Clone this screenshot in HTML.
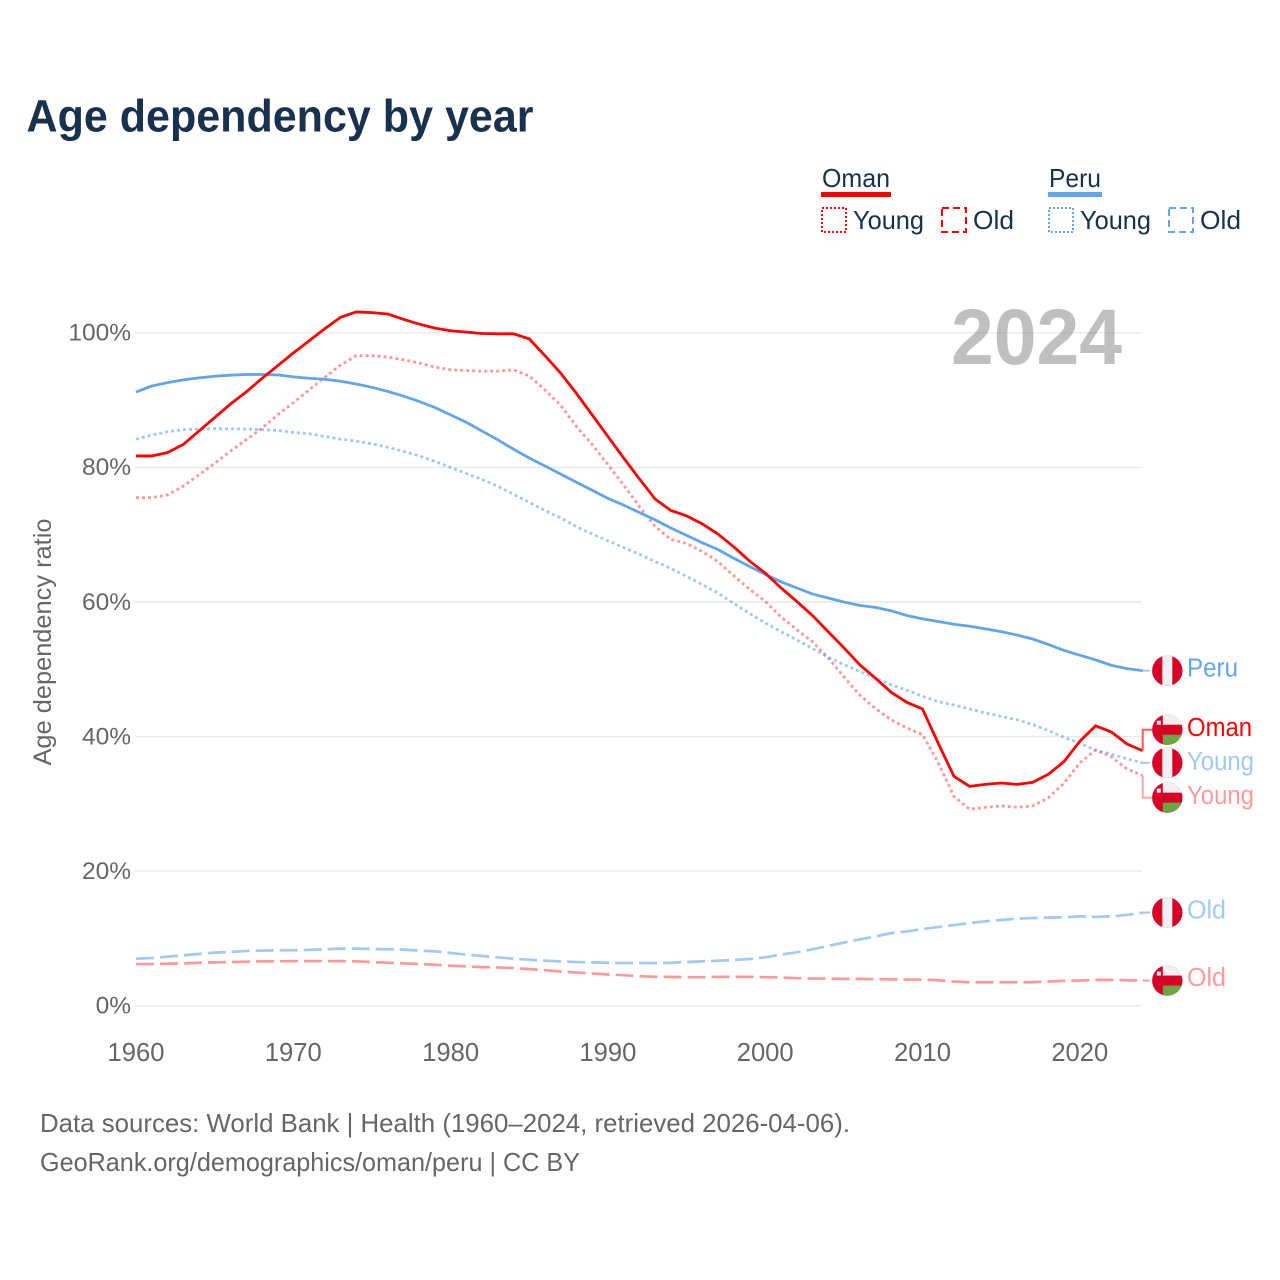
<!DOCTYPE html>
<html lang="en">
<head>
<meta charset="utf-8">
<title>Age dependency by year</title>
<style>
html,body{margin:0;padding:0;background:#fff;width:1280px;height:1280px;overflow:hidden}
svg{display:block;font-family:"Liberation Sans",sans-serif}
</style>
</head>
<body>
<svg id="chart" xmlns="http://www.w3.org/2000/svg" width="1280" height="1280" viewBox="0 0 1280 1280">
  <rect width="1280" height="1280" fill="#fff"/>
  <text x="26.5" y="131.5" font-size="45" font-weight="700" fill="#17314f" textLength="507" lengthAdjust="spacingAndGlyphs">Age dependency by year</text>

  <g>
    <text x="822" y="187" font-size="26" fill="#17314f" textLength="68" lengthAdjust="spacingAndGlyphs">Oman</text>
    <rect x="821" y="192" width="70" height="5" fill="#ff0000"/>
    <rect x="822" y="208" width="24" height="24" fill="none" stroke="#ff0000" stroke-width="2" stroke-dasharray="2,2"/>
    <text x="853" y="229" font-size="26" fill="#17314f" textLength="71" lengthAdjust="spacingAndGlyphs">Young</text>
    <rect x="942" y="208" width="24" height="24" fill="none" stroke="#ff0000" stroke-width="2" stroke-dasharray="7,4"/>
    <text x="973" y="229" font-size="26" fill="#17314f" textLength="41" lengthAdjust="spacingAndGlyphs">Old</text>

    <text x="1049" y="187" font-size="26" fill="#17314f" textLength="52" lengthAdjust="spacingAndGlyphs">Peru</text>
    <rect x="1048" y="192" width="54" height="5" fill="#60a5ee"/>
    <rect x="1049" y="208" width="24" height="24" fill="none" stroke="#60a5ee" stroke-width="2" stroke-dasharray="2,2"/>
    <text x="1080" y="229" font-size="26" fill="#17314f" textLength="71" lengthAdjust="spacingAndGlyphs">Young</text>
    <rect x="1169" y="208" width="24" height="24" fill="none" stroke="#60a5ee" stroke-width="2" stroke-dasharray="7,4"/>
    <text x="1200" y="229" font-size="26" fill="#17314f" textLength="41" lengthAdjust="spacingAndGlyphs">Old</text>
  </g>

  <g id="grid"></g>
  <g id="yticks"></g>
  <g id="xticks"></g>
  <text transform="translate(51,642) rotate(-90)" text-anchor="middle" font-size="25" fill="#666666" textLength="247" lengthAdjust="spacingAndGlyphs">Age dependency ratio</text>
  <text x="951" y="364" font-size="79" font-weight="700" fill="#808080" fill-opacity="0.5" textLength="171" lengthAdjust="spacingAndGlyphs">2024</text>
  <g id="series"></g>
  <g id="ends"></g>

  <text x="40" y="1132" font-size="26" fill="#666666" textLength="810" lengthAdjust="spacingAndGlyphs">Data sources: World Bank | Health (1960–2024, retrieved 2026-04-06).</text>
  <text x="40" y="1171" font-size="26" fill="#666666" textLength="540" lengthAdjust="spacingAndGlyphs">GeoRank.org/demographics/oman/peru | CC BY</text>
</svg>
<script>
const startYear = 1960;
const xTickYears = [1960, 1970, 1980, 1990, 2000, 2010, 2020];
const yTickValues = [0, 20, 40, 60, 80, 100];

const omanTotal = [
  81.7,81.7,82.2,83.4,85.4,87.4,89.4,91.2,93.2,95.1,
  97.0,98.8,100.6,102.3,103.1,103.0,102.8,102.0,101.3,100.7,
  100.3,100.1,99.9,99.85,99.85,99.1,96.6,94.0,91.0,87.8,
  84.6,81.4,78.3,75.3,73.6,72.8,71.6,70.1,68.2,66.1,
  64.3,62.1,60.1,58.0,55.6,53.2,50.7,48.7,46.6,45.1,
  44.1,39.0,34.1,32.6,32.9,33.1,32.9,33.2,34.4,36.3,
  39.3,41.6,40.7,38.9,37.9
];
const omanYoung = [
  75.5,75.5,75.9,77.2,78.9,80.6,82.4,84.1,85.8,87.8,
  89.6,91.5,93.4,95.2,96.6,96.6,96.4,96.0,95.5,94.9,
  94.5,94.4,94.3,94.3,94.5,93.6,91.5,89.2,86.1,83.4,
  80.4,77.4,74.2,71.2,69.3,68.7,67.5,66.0,63.9,61.9,
  60.1,57.8,55.9,54.1,51.7,48.9,46.2,44.2,42.5,41.3,
  40.3,36.1,31.1,29.2,29.5,29.7,29.5,29.7,30.9,33.1,
  36.1,38.0,37.0,35.2,34.2
];
const omanOld = [
  6.2,6.2,6.25,6.3,6.4,6.45,6.5,6.55,6.6,6.6,
  6.65,6.65,6.65,6.65,6.6,6.5,6.4,6.3,6.2,6.1,
  5.95,5.85,5.75,5.7,5.6,5.45,5.3,5.1,4.95,4.8,
  4.65,4.55,4.4,4.3,4.3,4.25,4.25,4.3,4.3,4.3,
  4.25,4.2,4.1,4.05,4.05,4.0,4.0,3.95,3.95,3.9,
  3.9,3.8,3.6,3.5,3.5,3.5,3.5,3.5,3.6,3.7,
  3.75,3.85,3.85,3.8,3.75
];
const peruTotal = [
  91.2,92.1,92.6,93.0,93.3,93.55,93.7,93.8,93.8,93.75,
  93.45,93.25,93.1,92.8,92.4,91.9,91.3,90.6,89.8,88.9,
  87.8,86.7,85.4,84.1,82.7,81.4,80.2,79.0,77.8,76.6,
  75.4,74.4,73.3,72.2,71.0,69.9,68.8,67.8,66.5,65.3,
  64.1,63.0,62.1,61.2,60.6,60.0,59.5,59.2,58.7,58.0,
  57.5,57.1,56.7,56.4,56.0,55.6,55.1,54.5,53.7,52.8,
  52.1,51.4,50.6,50.1,49.8
];
const peruYoung = [
  84.2,84.8,85.3,85.6,85.7,85.75,85.75,85.7,85.6,85.5,
  85.2,85.0,84.6,84.2,83.9,83.5,83.0,82.4,81.7,80.9,
  80.0,79.1,78.2,77.2,76.0,74.8,73.6,72.5,71.2,70.1,
  69.1,68.1,67.1,66.0,65.0,63.8,62.6,61.3,59.8,58.3,
  56.9,55.6,54.4,53.1,51.8,50.7,49.7,48.7,47.7,46.9,
  46.0,45.2,44.7,44.1,43.5,43.0,42.5,41.8,40.9,39.9,
  39.0,38.0,37.4,36.7,36.1
];
const peruOld = [
  7.0,7.1,7.3,7.5,7.7,7.9,8.0,8.15,8.2,8.25,
  8.25,8.3,8.4,8.5,8.5,8.45,8.4,8.35,8.2,8.1,
  7.85,7.6,7.4,7.2,7.0,6.85,6.7,6.6,6.5,6.45,
  6.4,6.35,6.35,6.35,6.4,6.5,6.6,6.7,6.8,6.95,
  7.2,7.6,7.95,8.4,8.9,9.4,9.85,10.3,10.8,11.05,
  11.4,11.7,12.0,12.3,12.55,12.75,12.95,13.05,13.1,13.15,
  13.3,13.2,13.3,13.5,13.85
];

const NS = 'http://www.w3.org/2000/svg';
function xScale(year){ return 136 + (year - 1960) * 15.73; }
function yScale(v){ return 1005.8 - v * 6.73; }
function make(tag, attrs, parent){
  const el = document.createElementNS(NS, tag);
  for (const k in attrs) el.setAttribute(k, attrs[k]);
  parent.appendChild(el);
  return el;
}

const gridG = document.getElementById('grid');
const yG = document.getElementById('yticks');
const xG = document.getElementById('xticks');
const seriesG = document.getElementById('series');
const endsG = document.getElementById('ends');

yTickValues.forEach(function(v){
  const line = make('line', {x1:135, x2:1141.6, y1:yScale(v), y2:yScale(v), stroke:'#e9e9e9', 'stroke-width':1.4}, gridG);
  
  
  const t = make('text', {x:131, y:yScale(v)+7.8, 'text-anchor':'end', 'font-size':24.5, fill:'#666666'}, yG);
  t.textContent = v + '%';
  
  
});

xTickYears.forEach(function(y){
  const t = make('text', {x:xScale(y), y:1061, 'text-anchor':'middle', 'font-size':25.6, fill:'#666666'}, xG);
  t.textContent = y;
  
  
});

function drawLine(values, color, opacity, dash, width, name){
  const pts = values.map(function(v, i){ return xScale(startYear + i).toFixed(2) + ',' + yScale(v).toFixed(2); }).join(' ');
  const p = make('polyline', {points:pts, fill:'none', stroke:color, 'stroke-opacity':opacity, 'stroke-width':width, 'stroke-linejoin':'round'}, seriesG);
  if (dash) p.setAttribute('stroke-dasharray', dash);
  
  
}

drawLine(omanOld, '#ff0000', 0.4, '18,6', 2.7, 'line-oman-old');
drawLine(peruOld, '#60a5ee', 0.6, '18,6', 2.7, 'line-peru-old');
drawLine(omanYoung, '#ff0000', 0.4, '3,3', 2.8, 'line-oman-young');
drawLine(peruYoung, '#60a5ee', 0.6, '3,3', 2.8, 'line-peru-young');
drawLine(peruTotal, '#60a5ee', 1, null, 2.8, 'line-peru-total');
drawLine(omanTotal, '#ff0000', 1, null, 2.8, 'line-oman-total');

const defs = make('defs', {}, endsG);
let clipCount = 0;

function drawFlag(kind, cx, cy){
  clipCount += 1;
  const id = 'flag-clip-' + clipCount;
  const clip = make('clipPath', {id:id}, defs);
  make('circle', {cx:cx, cy:cy, r:15.2}, clip);
  const g = make('g', {'clip-path':'url(#' + id + ')'}, endsG);
  
  
  make('rect', {x:cx-16, y:cy-16, width:32, height:32, fill:'#d80027'}, g);
  if (kind === 'peru') {
    make('rect', {x:cx-5, y:cy-16, width:10, height:32, fill:'#f0f0f0'}, g);
  } else {
    make('rect', {x:cx-4.5, y:cy-16, width:21, height:11, fill:'#f0f0f0'}, g);
    make('rect', {x:cx-4.5, y:cy+5, width:21, height:11, fill:'#6da544'}, g);
    make('rect', {x:cx-10.5, y:cy-9, width:4, height:4, fill:'#f0f0f0'}, g);
  }
}

function drawEnd(values, kind, color, textColor, nudge, label, labelWidth, baselineShift, name){
  const last = values[values.length - 1];
  const x0 = xScale(startYear + values.length - 1);
  const y0 = yScale(last);
  const cy = y0 + nudge;
  const cx = 1167.3;
  const pts = nudge === 0 ? [[x0,y0],[1150,y0]] : [[x0,y0],[x0,cy],[1152,cy]];
  const conn = make('polyline', {points:pts.map(function(p){return p.join(',');}).join(' '), fill:'none', stroke:color, 'stroke-width':2}, endsG);
  
  
  drawFlag(kind, cx, cy);
  const t = make('text', {x:1187, y:cy+baselineShift, 'font-size':25.5, fill:textColor, textLength:labelWidth, lengthAdjust:'spacingAndGlyphs'}, endsG);
  t.textContent = label;
  
  
}

drawEnd(peruTotal, 'peru', '#a0c9f5', '#60a5ee', 0, 'Peru', 51, 6, 'end-peru-total');
drawEnd(omanTotal, 'oman', '#ff5a5a', '#ff0000', -21, 'Oman', 65, 6.5, 'end-oman-total');
drawEnd(peruYoung, 'peru', '#a0c9f5', '#a0c9f5', 0, 'Young', 67, 7, 'end-peru-young');
drawEnd(omanYoung, 'oman', '#ffa8a8', '#ff9b9b', 22, 'Young', 67, 6.5, 'end-oman-young');
drawEnd(peruOld, 'peru', '#a0c9f5', '#a0c9f5', 0, 'Old', 39, 6, 'end-peru-old');
drawEnd(omanOld, 'oman', '#ff9b9b', '#ff9b9b', 0, 'Old', 39, 5.5, 'end-oman-old');
</script>
</body>
</html>
